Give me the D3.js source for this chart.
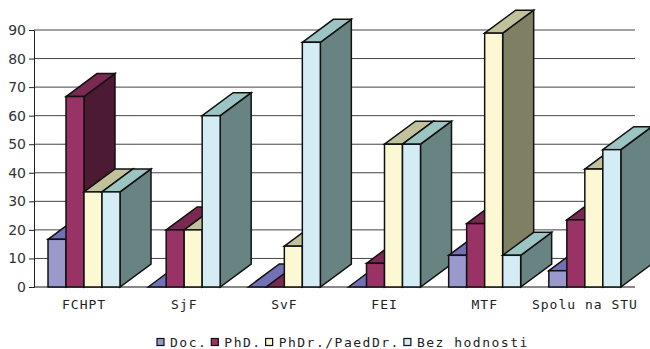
<!DOCTYPE html>
<html>
<head>
<meta charset="utf-8">
<script src="https://cdn.jsdelivr.net/npm/d3@7"></script>
<style>
  body { margin: 0; background: #fff; }
  .tick text { font-family: "DejaVu Sans", sans-serif; font-size: 14px; fill: #333; }
  .lbl { font-family: "DejaVu Sans Mono", monospace; font-size: 13px; fill: #222; letter-spacing: 1px; }
  .leg { font-family: "DejaVu Sans Mono", monospace; font-size: 13px; fill: #222; letter-spacing: 1.5px; }
</style>
</head>
<body>
<script>
const categories = ["FCHPT", "SjF", "SvF", "FEI", "MTF", "Spolu na STU"];
const seriesNames = ["Doc.", "PhD.", "PhDr./PaedDr.", "Bez hodnosti"];
const docValues  = [16.7, 0, 0, 0, 11.1, 5.7];
const phdValues  = [66.7, 20, 0, 8.3, 22.2, 23.5];
const phdrValues = [33.3, 20, 14.3, 50, 88.9, 41.3];
const bezValues  = [33.3, 60, 85.7, 50, 11.1, 48.1];
const yTicks = [0, 10, 20, 30, 40, 50, 60, 70, 80, 90];

const seriesValues = [docValues, phdValues, phdrValues, bezValues];
// front / top / side shades per series
const colors = [
  {front: "#9999cc", top: "#7171b5", side: "#4c4c80"},
  {front: "#993366", top: "#7a2952", side: "#4d1a33"},
  {front: "#fcf8d4", top: "#c1c19b", side: "#7f7f63"},
  {front: "#d4ecf4", top: "#9cc4c2", side: "#688482"}
];

const width = 650, height = 349;
const plot = {left: 34, right: 635, top: 30, bottom: 287};
const depth = {dx: 31, dy: -23};

const svg = d3.select("body").append("svg")
  .attr("width", width)
  .attr("height", height);

const xScale = d3.scaleBand().domain(categories).range([plot.left, plot.right]);
const xInner = d3.scaleBand().domain(d3.range(seriesNames.length))
  .range([14, 86]);
const yScale = d3.scaleLinear().domain([0, 90]).range([plot.bottom, plot.top]);

// gridlines
svg.append("g")
  .selectAll("line")
  .data(yTicks.filter(d => d > 0))
  .join("line")
  .attr("x1", plot.left).attr("x2", plot.right)
  .attr("y1", d => yScale(d)).attr("y2", d => yScale(d))
  .attr("stroke", "#444").attr("stroke-width", 1);

// y axis
const yAxis = svg.append("g")
  .attr("transform", `translate(${plot.left},0)`)
  .call(d3.axisLeft(yScale).tickValues(yTicks).tickSize(5).tickPadding(3));
yAxis.select(".domain").attr("stroke", "#222");
yAxis.selectAll(".tick line").attr("stroke", "#222");

// x axis line
svg.append("line")
  .attr("x1", plot.left).attr("x2", plot.right)
  .attr("y1", plot.bottom).attr("y2", plot.bottom)
  .attr("stroke", "#111").attr("stroke-width", 1.2);

// bars (drawn left to right so later ones cover earlier side faces)
const bars = [];
categories.forEach((c, ci) => {
  seriesValues.forEach((vals, si) => {
    bars.push({cat: c, s: si, v: vals[ci]});
  });
});

const y0 = yScale(0);
const barG = svg.append("g")
  .attr("stroke", "#111")
  .attr("stroke-width", 1.5)
  .attr("stroke-linejoin", "miter");

bars.forEach(b => {
  const x = xScale(b.cat) + xInner(b.s);
  const w = xInner.bandwidth();
  const yv = yScale(b.v);
  const g = barG.append("g");
  g.append("polygon")
    .attr("points", [[x + w, yv], [x + w + depth.dx, yv + depth.dy],
      [x + w + depth.dx, y0 + depth.dy], [x + w, y0]].join(" "))
    .attr("fill", colors[b.s].side);
  g.append("polygon")
    .attr("points", [[x, yv], [x + depth.dx, yv + depth.dy],
      [x + w + depth.dx, yv + depth.dy], [x + w, yv]].join(" "))
    .attr("fill", colors[b.s].top);
  g.append("rect")
    .attr("x", x).attr("y", yv)
    .attr("width", w).attr("height", y0 - yv)
    .attr("fill", colors[b.s].front);
});

// category labels
svg.append("g")
  .selectAll("text")
  .data(categories)
  .join("text")
  .attr("class", "lbl")
  .attr("x", d => xScale(d) + xScale.bandwidth() / 2)
  .attr("y", 309)
  .attr("text-anchor", "middle")
  .text(d => d);

// legend
const legend = svg.append("g");
let lx = 157;
seriesNames.forEach((name, i) => {
  legend.append("rect")
    .attr("x", lx).attr("y", 338.5)
    .attr("width", 7).attr("height", 7)
    .attr("fill", colors[i].front)
    .attr("stroke", "#111").attr("stroke-width", 1.2);
  const t = legend.append("text")
    .attr("class", "leg")
    .attr("x", lx + 13).attr("y", 347)
    .text(name);
  lx += 13 + t.node().getComputedTextLength() + 4;
});
</script>
</body>
</html>
